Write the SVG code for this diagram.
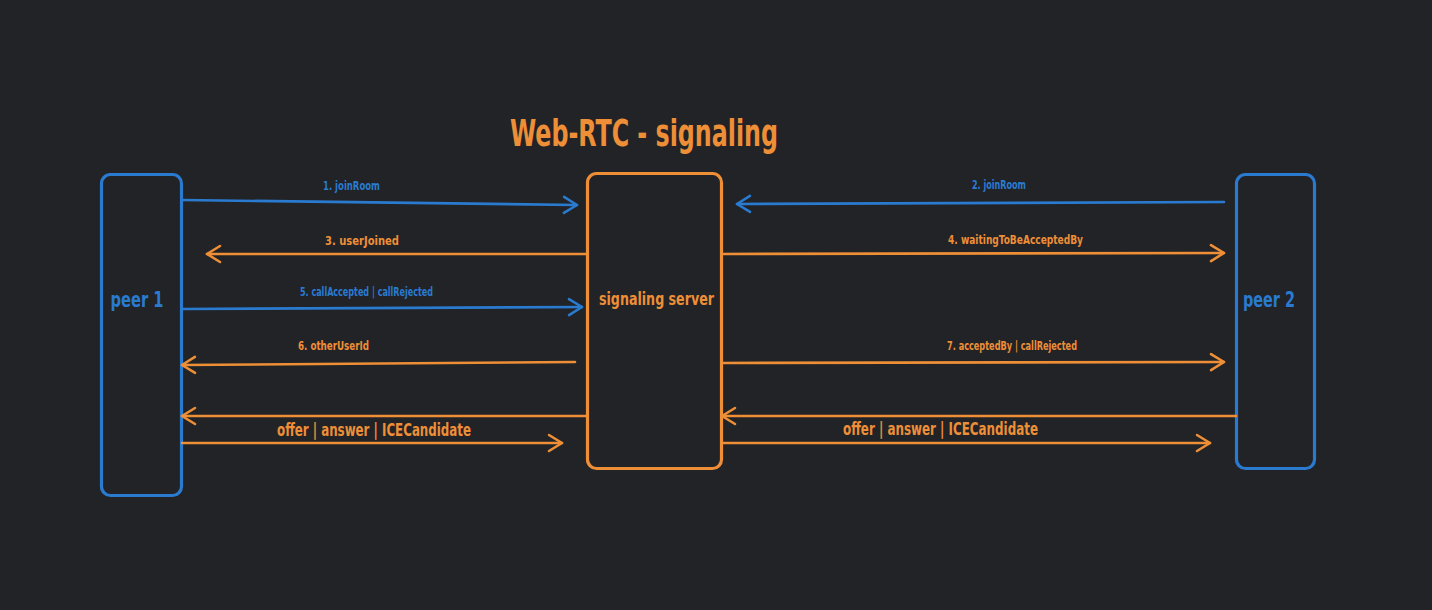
<svg xmlns="http://www.w3.org/2000/svg" width="1432" height="610" viewBox="0 0 1432 610">
<defs>
<style>
.bg{fill:#212327}
.box{fill:none;stroke-width:3.2;stroke-linejoin:round}
.b{stroke:#2a7bd0}
.o{stroke:#ee8f37}
.ln{fill:none;stroke-width:2.6;stroke-linecap:round}
.t{font-family:"DejaVu Sans Condensed","Liberation Sans",sans-serif;font-weight:bold;text-anchor:middle}
.tb{fill:#2a7bd0}
.to{fill:#ee8f37}
.s{font-size:13px}
.m{font-size:17px}
</style>
<marker id="ab" viewBox="0 0 20 20" refX="16" refY="10" markerWidth="20" markerHeight="20" markerUnits="userSpaceOnUse" orient="auto">
<path d="M3,2 L16,10 L3,18" fill="none" stroke="#2a7bd0" stroke-width="2.6" stroke-linecap="round" stroke-linejoin="round"/>
</marker>
<marker id="ao" viewBox="0 0 20 20" refX="16" refY="10" markerWidth="20" markerHeight="20" markerUnits="userSpaceOnUse" orient="auto">
<path d="M3,2 L16,10 L3,18" fill="none" stroke="#ee8f37" stroke-width="2.6" stroke-linecap="round" stroke-linejoin="round"/>
</marker>
</defs>
<rect class="bg" x="0" y="0" width="1432" height="610"/>
<text class="t to" x="644" y="146" font-size="38" textLength="268" lengthAdjust="spacingAndGlyphs">Web-RTC - signaling</text>
<g id="peer1">
<rect class="box b" x="101.5" y="174.5" width="80" height="321" rx="9"/>
<text class="t tb" x="137" y="307" font-size="21" textLength="53" lengthAdjust="spacingAndGlyphs">peer 1</text>
</g>
<g id="server">
<rect class="box o" x="587.5" y="173.5" width="134" height="295" rx="9"/>
<text class="t to" x="656.5" y="305" font-size="18" textLength="115" lengthAdjust="spacingAndGlyphs">signaling server</text>
</g>
<g id="peer2">
<rect class="box b" x="1236.5" y="174.5" width="78" height="294" rx="9"/>
<text class="t tb" x="1269" y="307" font-size="21" textLength="52" lengthAdjust="spacingAndGlyphs">peer 2</text>
</g>
<g id="connectors">
<path class="ln b" d="M182,200 L577,205" marker-end="url(#ab)"/>
<path class="ln o" d="M587,254 L207,254" marker-end="url(#ao)"/>
<path class="ln b" d="M182,309 L582,307" marker-end="url(#ab)"/>
<path class="ln o" d="M575,362 L182,365" marker-end="url(#ao)"/>
<path class="ln o" d="M587,416 L182,416" marker-end="url(#ao)"/>
<path class="ln o" d="M182,443 L562,443" marker-end="url(#ao)"/>
<path class="ln b" d="M1224,202 L737,204" marker-end="url(#ab)"/>
<path class="ln o" d="M722,254 L1224,253" marker-end="url(#ao)"/>
<path class="ln o" d="M722,363 L1224,362" marker-end="url(#ao)"/>
<path class="ln o" d="M1236,416 L722,416" marker-end="url(#ao)"/>
<path class="ln o" d="M722,443 L1210,443" marker-end="url(#ao)"/>
<text class="t tb s" x="351.5" y="190" textLength="57" lengthAdjust="spacingAndGlyphs">1. joinRoom</text>
<text class="t to s" x="362" y="245" textLength="74" lengthAdjust="spacingAndGlyphs">3. userJoined</text>
<text class="t tb s" x="366.5" y="296" textLength="133" lengthAdjust="spacingAndGlyphs">5. callAccepted | callRejected</text>
<text class="t to s" x="333.5" y="350" textLength="71" lengthAdjust="spacingAndGlyphs">6. otherUserId</text>
<text class="t to m" x="374" y="436" textLength="194" lengthAdjust="spacingAndGlyphs">offer | answer | ICECandidate</text>
<text class="t tb s" x="999" y="189" textLength="54" lengthAdjust="spacingAndGlyphs">2. joinRoom</text>
<text class="t to s" x="1015.5" y="244" textLength="135" lengthAdjust="spacingAndGlyphs">4. waitingToBeAcceptedBy</text>
<text class="t to s" x="1012" y="350" textLength="130" lengthAdjust="spacingAndGlyphs">7. acceptedBy | callRejected</text>
<text class="t to m" x="940.5" y="435" textLength="195" lengthAdjust="spacingAndGlyphs">offer | answer | ICECandidate</text>
</g>
</svg>
